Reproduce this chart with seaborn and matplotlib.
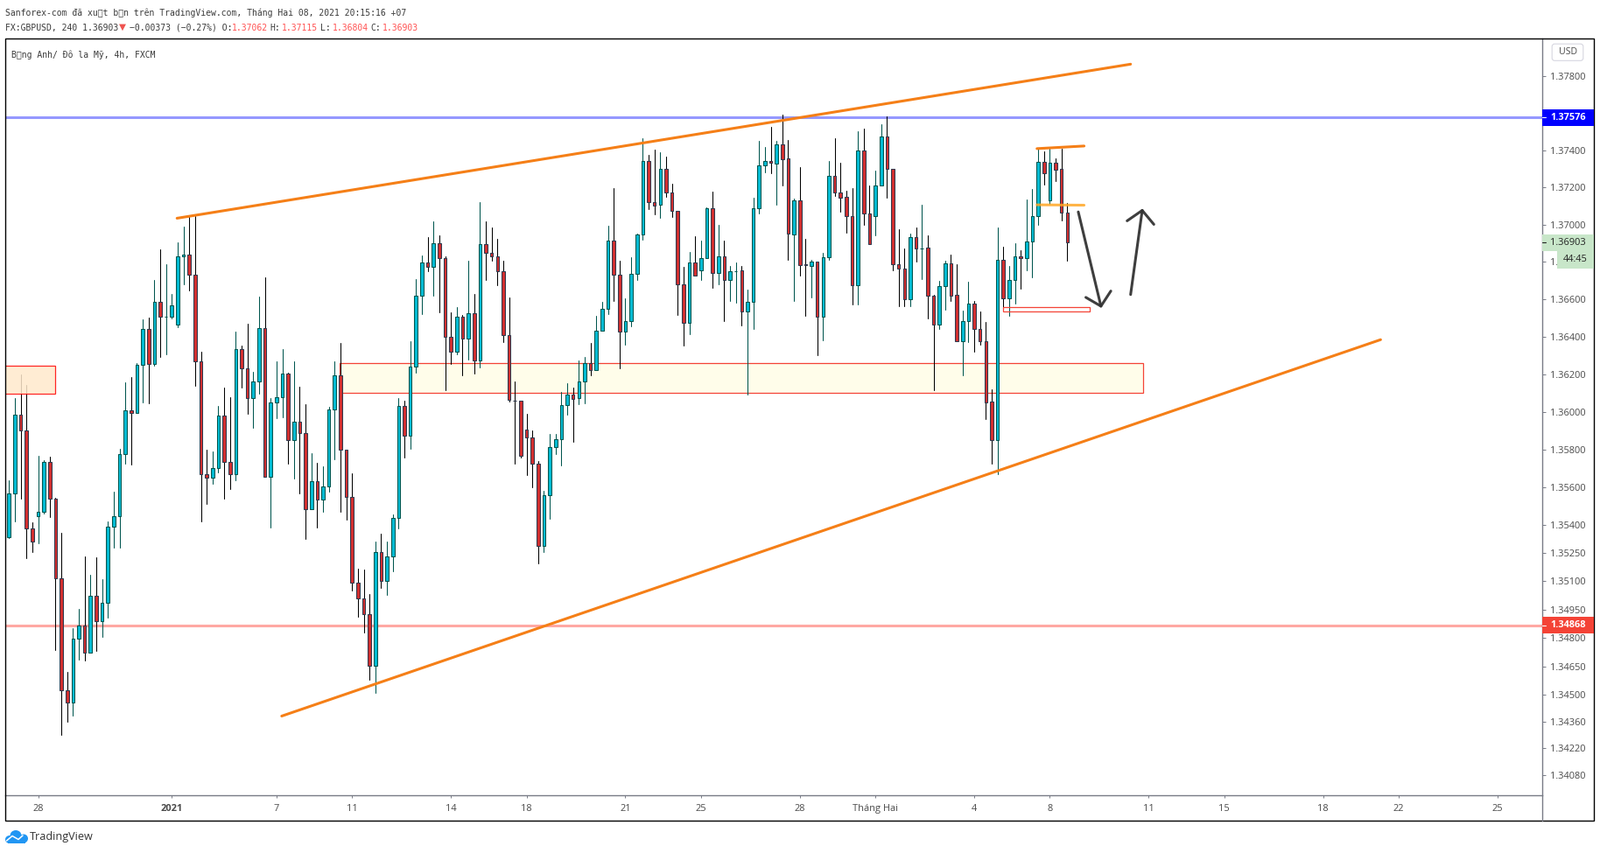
import numpy as np
import pandas as pd
import matplotlib
matplotlib.use("Agg")
import matplotlib.pyplot as plt
import seaborn as sns
from matplotlib.patches import Rectangle, FancyBboxPatch, Ellipse
from matplotlib.ticker import NullLocator, NullFormatter

# GBPUSD 4h candles
opens = [1.35334,1.35565,1.35983,1.35900,1.35378,1.35444,1.35466,1.35733,1.35536,1.35118,1.34523,1.34459,1.34798,1.34868,1.34725,1.35025,1.34891,1.34988,1.35391,1.35447,
1.35773,1.36007,1.35994,1.36248,1.36440,1.36253,1.36585,1.36505,1.36505,1.36464,1.36828,1.36839,1.36731,1.36268,1.35666,1.35648,1.35700,1.35979,1.35731,1.35670,
1.36332,1.36233,1.36071,1.36159,1.36446,1.35652,1.36048,1.36075,1.36202,1.35849,1.35945,1.35886,1.35484,1.35629,1.35535,1.35604,1.36011,1.36196,1.35796,1.35548,
1.35095,1.35011,1.34927,1.34652,1.35257,1.35104,1.35233,1.35437,1.36029,1.35870,1.36242,1.36617,1.36796,1.36772,1.36899,1.36820,1.36397,1.36319,1.36505,1.36392,
1.36524,1.36272,1.36895,1.36848,1.36832,1.36750,1.36407,1.36060,1.36058,1.35904,1.35862,1.35722,1.35289,1.35555,1.35811,1.35853,1.36034,1.36090,1.36072,1.36160,
1.36257,1.36223,1.36434,1.36547,1.36913,1.36730,1.36425,1.36481,1.36735,1.36946,1.37340,1.37119,1.37105,1.37298,1.37171,1.37072,1.36678,1.36472,1.36796,1.36753,
1.36819,1.37086,1.36739,1.36829,1.36702,1.36750,1.36753,1.36535,1.36584,1.37086,1.37317,1.37340,1.37329,1.37429,1.37354,1.36949,1.37128,1.36786,1.36780,1.36801,
1.36505,1.36824,1.37260,1.37171,1.37147,1.37044,1.36673,1.37397,1.37061,1.37044,1.37212,1.37472,1.37298,1.36787,1.36763,1.36598,1.36932,1.36874,1.36876,1.36617,
1.36465,1.36669,1.36791,1.36622,1.36378,1.36481,1.36579,1.36439,1.36374,1.36052,1.35848,1.36810,1.36603,1.36701,1.36829,1.36818,1.36908,1.37044,1.37335,1.37132,
1.37331,1.37298,1.37062]
highs = [1.35637,1.36071,1.36200,1.36143,1.35411,1.35766,1.35744,1.35762,1.35543,1.35356,1.34622,1.34851,1.34954,1.35232,1.35133,1.35227,1.35111,1.35417,1.35576,1.35804,
1.36158,1.36185,1.36257,1.36494,1.36503,1.36705,1.36868,1.36789,1.36630,1.36905,1.36990,1.37042,1.37045,1.36320,1.35799,1.35790,1.36031,1.36130,1.36079,1.36427,
1.36353,1.36469,1.36213,1.36616,1.36718,1.36072,1.36268,1.36334,1.36210,1.36268,1.36132,1.36039,1.35779,1.35728,1.35710,1.36026,1.36268,1.36366,1.35796,1.35672,
1.35166,1.35161,1.35032,1.35309,1.35351,1.35309,1.35454,1.36073,1.36058,1.36375,1.36709,1.36836,1.36934,1.37018,1.36943,1.36829,1.36530,1.36559,1.36517,1.36806,
1.36627,1.37121,1.37018,1.36986,1.36924,1.36806,1.36610,1.36159,1.36058,1.35989,1.35901,1.35736,1.35580,1.35882,1.35882,1.36104,1.36152,1.36129,1.36271,1.36290,
1.36366,1.36511,1.36586,1.36994,1.37196,1.36805,1.36605,1.36825,1.36952,1.37463,1.37374,1.37403,1.37389,1.37365,1.37219,1.37072,1.36774,1.36853,1.36938,1.36914,
1.37092,1.37177,1.36999,1.36914,1.36779,1.36797,1.36779,1.36651,1.37144,1.37450,1.37417,1.37525,1.37450,1.37591,1.37455,1.37139,1.37309,1.36922,1.36812,1.36801,
1.36849,1.37340,1.37465,1.37332,1.37181,1.37195,1.37502,1.37514,1.37209,1.37290,1.37540,1.37580,1.37298,1.36974,1.36872,1.36952,1.36985,1.37107,1.36943,1.36625,
1.36698,1.36807,1.36840,1.36788,1.36539,1.36694,1.36590,1.36534,1.36478,1.36119,1.36985,1.36882,1.36778,1.36900,1.36863,1.37133,1.37189,1.37407,1.37392,1.37407,
1.37356,1.37408,1.37115]
lows = [1.35331,1.35417,1.35538,1.35223,1.35253,1.35299,1.35458,1.35440,1.34736,1.34291,1.34360,1.34389,1.34686,1.34682,1.34725,1.34732,1.34808,1.34908,1.35278,1.35278,
1.35725,1.35720,1.35992,1.36051,1.36044,1.36245,1.36294,1.36307,1.36497,1.36449,1.36681,1.36648,1.36136,1.35419,1.35510,1.35617,1.35677,1.35538,1.35589,1.35637,
1.36130,1.35990,1.35915,1.36097,1.35652,1.35384,1.35964,1.35972,1.35725,1.35646,1.35567,1.35325,1.35484,1.35384,1.35466,1.35576,1.35747,1.35466,1.35425,1.35052,
1.34914,1.34827,1.34580,1.34513,1.35067,1.35028,1.35154,1.35381,1.35757,1.35804,1.36206,1.36523,1.36749,1.36620,1.36532,1.36115,1.36256,1.36307,1.36194,1.36280,
1.36205,1.36238,1.36701,1.36806,1.36674,1.36373,1.36055,1.35725,1.35758,1.35665,1.35600,1.35195,1.35255,1.35430,1.35773,1.35716,1.35986,1.35842,1.36042,1.36045,
1.36195,1.36223,1.36434,1.36522,1.36592,1.36232,1.36356,1.36456,1.36701,1.36921,1.37085,1.37056,1.37037,1.37149,1.37042,1.36516,1.36353,1.36414,1.36725,1.36701,
1.36819,1.36663,1.36680,1.36484,1.36592,1.36582,1.36460,1.36093,1.36442,1.37061,1.37282,1.37276,1.37108,1.37209,1.36813,1.36591,1.36728,1.36513,1.36609,1.36302,
1.36380,1.36813,1.37155,1.37070,1.36958,1.36573,1.36573,1.37000,1.36894,1.36944,1.37212,1.37144,1.36757,1.36564,1.36564,1.36564,1.36802,1.36709,1.36496,1.36116,
1.36441,1.36545,1.36592,1.36378,1.36195,1.36372,1.36319,1.36357,1.35961,1.35725,1.35668,1.36555,1.36510,1.36578,1.36657,1.36755,1.36719,1.37000,1.37216,1.37113,
1.37234,1.37023,1.36804]
closes = [1.35565,1.35983,1.35900,1.35378,1.35312,1.35466,1.35733,1.35536,1.35118,1.34523,1.34459,1.34798,1.34868,1.34725,1.35025,1.34891,1.34988,1.35391,1.35447,1.35773,
1.36007,1.35994,1.36248,1.36440,1.36253,1.36585,1.36505,1.36505,1.36567,1.36830,1.36839,1.36731,1.36268,1.35666,1.35648,1.35700,1.35979,1.35731,1.35670,1.36332,
1.36233,1.36071,1.36159,1.36445,1.35652,1.36048,1.36075,1.36202,1.35849,1.35945,1.35886,1.35484,1.35629,1.35535,1.35604,1.36011,1.36196,1.35796,1.35548,1.35095,
1.35011,1.34927,1.34652,1.35257,1.35104,1.35233,1.35437,1.36029,1.35870,1.36242,1.36617,1.36796,1.36772,1.36899,1.36820,1.36397,1.36319,1.36505,1.36392,1.36524,
1.36272,1.36895,1.36848,1.36832,1.36750,1.36407,1.36061,1.36058,1.35763,1.35862,1.35722,1.35289,1.35555,1.35811,1.35853,1.36034,1.36090,1.36070,1.36160,1.36257,
1.36223,1.36434,1.36547,1.36913,1.36730,1.36425,1.36481,1.36735,1.36946,1.37340,1.37119,1.37103,1.37298,1.37171,1.37072,1.36678,1.36472,1.36796,1.36725,1.36819,
1.37086,1.36739,1.36829,1.36702,1.36749,1.36750,1.36535,1.36584,1.37086,1.37317,1.37340,1.37331,1.37429,1.37352,1.36953,1.37128,1.36785,1.36784,1.36801,1.36505,
1.36824,1.37260,1.37171,1.37145,1.37044,1.36673,1.37397,1.37061,1.36894,1.37212,1.37472,1.37298,1.36787,1.36763,1.36598,1.36932,1.36871,1.36874,1.36617,1.36465,
1.36669,1.36791,1.36620,1.36378,1.36481,1.36578,1.36439,1.36374,1.36051,1.35848,1.36810,1.36603,1.36701,1.36829,1.36818,1.36908,1.37044,1.37335,1.37277,1.37331,
1.37296,1.37062,1.36903]

y_ticks = [1.378,1.374,1.372,1.370,1.368,1.366,1.364,1.362,1.360,1.358,1.356,1.354,1.3525,1.351,1.3495,1.348,1.3465,1.345,1.3436,1.3422,1.3408]
x_tick_pos = [5,28,46,59,76,89,106,119,136,149,166,179,196,209,226,239,256]
x_tick_labels = ['28','2021','7','11','14','18','21','25','28','Tháng Hai','4','8','11','15','18','22','25']

resistance = 1.37576
support = 1.34868
last_price = 1.36903

# drawn lines: bar number and price of both ends
upper_line_x = [28.9,192.9]
upper_line_y = [1.37034,1.37863]
lower_line_x = [46.9,235.9]
lower_line_y = [1.34389,1.36384]
flag_top_x = [176.8,184.9]
flag_top_y = [1.37408,1.37422]
flag_mid_x = [176.8,184.9]
flag_mid_y = [1.37106,1.37104]
down_arrow_x = [183.9,187.8]
down_arrow_y = [1.37068,1.36563]
down_head_x = [185.2,187.8,189.5]
down_head_y = [1.36610,1.36563,1.36644]
up_arrow_x = [192.9,194.9]
up_arrow_y = [1.36625,1.37076]
up_head_x = [192.3,194.9,196.9]
up_head_y = [1.37020,1.37076,1.37001]

UP='#00bcd4'; DOWN='#d32f2f'; UP_EDGE='#00564f'; DOWN_EDGE='#2f3a4f'
ORANGE='#f57f17'
W,H=1828,975

sns.set_theme(style='white')
plt.rcParams['font.family']=['Open Sans','DejaVu Sans']

df=pd.DataFrame({'bar':np.arange(len(opens)),'open':opens,'high':highs,'low':lows,'close':closes})
df['up']=df['close']>=df['open']

fig=plt.figure(figsize=(W/100,H/100),dpi=100,facecolor='white')
left,right,top,bottom=6.3,1761.7,43.5,909
ax=fig.add_axes([left/W,1-bottom/H,(right-left)/W,(bottom-top)/H])
ax.set_yscale('log')
ax.set_xlim(-0.6,263.65)
ax.set_ylim(1.33973,1.38004)

# levels and zones
ax.axhline(resistance,color='#9598ff',lw=2.2,zorder=1)
ax.axhline(support,color='#ffa8a3',lw=2.2,zorder=1)
ax.add_patch(Rectangle((56.9,1.36099),138.1,0.00159,fc='#fffdea',ec='#f44336',lw=0.9,zorder=0.5))

# wicks
wicks=pd.concat([df[['bar','up']].assign(price=df['low']),df[['bar','up']].assign(price=df['high'])])
sns.lineplot(data=wicks,x='bar',y='price',hue='up',units='bar',estimator=None,sort=False,
             palette={True:UP_EDGE,False:'black'},lw=0.75,legend=False,ax=ax,zorder=2)

# bodies
body_low=df[['open','close']].min(axis=1)
body_h=(df['open']-df['close']).abs()
ax.bar(df['bar'],body_h,bottom=body_low,width=0.54,
       color=[UP if u else DOWN for u in df['up']],
       edgecolor=[UP_EDGE if u else DOWN_EDGE for u in df['up']],linewidth=0.75,zorder=3)

ax.add_patch(Rectangle((-3,1.36098),10.98,0.00146,fc='#ffe9cc',ec='#ff0000',lw=0.9,alpha=0.85,zorder=4))
ax.add_patch(Rectangle((171,1.36533),14.9,0.00024,fc='none',ec='#f44336',lw=0.9,zorder=4))

# trend lines, flag, arrows
for xs,ys,c,w,a in [(upper_line_x,upper_line_y,ORANGE,2.2,1),(lower_line_x,lower_line_y,ORANGE,2.2,1),
                    (flag_top_x,flag_top_y,ORANGE,2.2,1),(flag_mid_x,flag_mid_y,'#ffa726',2.2,0.85),
                    (down_arrow_x,down_arrow_y,'#333333',2.2,0.95),(down_head_x,down_head_y,'#333333',2.2,0.95),
                    (up_arrow_x,up_arrow_y,'#333333',2.2,0.95),(up_head_x,up_head_y,'#333333',2.2,0.95)]:
    sns.lineplot(x=xs,y=ys,color=c,lw=w,alpha=a,sort=False,estimator=None,ax=ax,zorder=5,legend=False)

# axes
ax.set_xlabel('');ax.set_ylabel('')
ax.yaxis.tick_right()
ax.set_yticks(y_ticks)
ax.set_yticklabels([f'{v:.5f}' for v in y_ticks])
ax.yaxis.set_minor_locator(NullLocator())
ax.yaxis.set_minor_formatter(NullFormatter())
ax.set_xticks(x_tick_pos)
ax.set_xticklabels(x_tick_labels)
ax.get_xticklabels()[1].set_fontweight('bold')
ax.tick_params(axis='y',right=True,left=False,length=3,width=0.7,color='#787b86',pad=3.6,labelsize=7.9,labelcolor='#4a4a4a')
ax.tick_params(axis='x',bottom=True,length=2.2,width=0.7,color='#787b86',pad=5,labelsize=7.9,labelcolor='#4a4a4a')
for s in ['left','top']:
    ax.spines[s].set_visible(False)
for s in ['right','bottom']:
    ax.spines[s].set_color('#787b86')
    ax.spines[s].set_linewidth(1)

# overlay in pixels for the frame, header and price tags
ov=fig.add_axes([0,0,1,1],facecolor='none')
ov.set_xlim(0,W);ov.set_ylim(H,0);ov.axis('off')
ov.add_patch(Rectangle((6.3,43.5),1814.7,894.8,fc='none',ec='black',lw=1))
ov.plot([right,right],[bottom,938.3],color='#787b86',lw=1)

def price_px(p):
    return H-ax.transData.transform((0,p))[1]

def price_tag(p,txt,fill,fg,bold=True):
    y=price_px(p)
    ov.add_patch(Rectangle((right,y-9.4),1821-right,18.8,fc=fill,ec='none',zorder=5))
    ov.plot([right,right+4],[y,y],color=fg,lw=0.8,zorder=6)
    ov.text(1771,y,txt,color=fg,fontsize=7.9,va='center',ha='left',fontweight='bold' if bold else 'normal',zorder=6)

price_tag(resistance,f'{resistance:.5f}','#0000ff','white')
price_tag(support,f'{support:.5f}','#f44336','white')
price_tag(last_price,f'{last_price:.5f}','#c8e6c9','#222222',bold=False)
y=price_px(last_price)
ov.add_patch(Rectangle((1779,y+10),42,19.3,fc='#c8e6c9',ec='none',zorder=5))
ov.text(1800,y+19.5,'44:45',color='#222222',fontsize=7.9,va='center',ha='center',zorder=6)

ov.add_patch(FancyBboxPatch((1775,52),32,15.5,boxstyle='round,pad=1.8,rounding_size=3',fc='white',ec='#d6d6e0',lw=0.8,zorder=6))
ov.text(1791,59.5,'USD',color='#4a4a4a',fontsize=7.6,ha='center',va='center',zorder=7)

mono='DejaVu Sans Mono'
grey='#3a3a3a'; red='#ff5252'
ov.text(6,15,'Sanforex-com đã xuất bản trên TradingView.com, Tháng Hai 08, 2021 20:15:16 +07',family=mono,fontsize=7.03,color=grey,va='center')
for x,t,c in [(6,'FX:GBPUSD, 240 1.36903',grey),(147.7,'−0.00373 (−0.27%) O:',grey),(265,'1.37062',red),
              (308.7,'H:',grey),(322.3,'1.37115',red),(366,'L:',grey),(379.7,'1.36804',red),
              (423.7,'C:',grey),(436.7,'1.36903',red)]:
    ov.text(x,32,t,family=mono,fontsize=7.03,color=c,va='center')
ov.text(139.5,31,'▼',family='DejaVu Sans',fontsize=7.5,color='#ef5350',va='center',ha='center')
ov.text(13,63,'Bảng Anh/ Đô la Mỹ, 4h, FXCM',family=mono,fontsize=7.03,color=grey,va='center')

# logo
blue='#2196f3'
for cx,cy,ew,eh in [(11,959.5,10,9),(18,955,13,12),(27,958.5,10,10)]:
    ov.add_patch(Ellipse((cx,cy),ew,eh,fc=blue,ec='none'))
ov.add_patch(Rectangle((9,958),20,6,fc=blue,ec='none'))
ov.plot([7.5,14,21,26],[961,955.5,959.5,955],color='white',lw=1.1)
ov.text(34,956.8,'TradingView',fontsize=9.1,color='#333333',va='center')

fig.savefig('out.png',dpi=100)
